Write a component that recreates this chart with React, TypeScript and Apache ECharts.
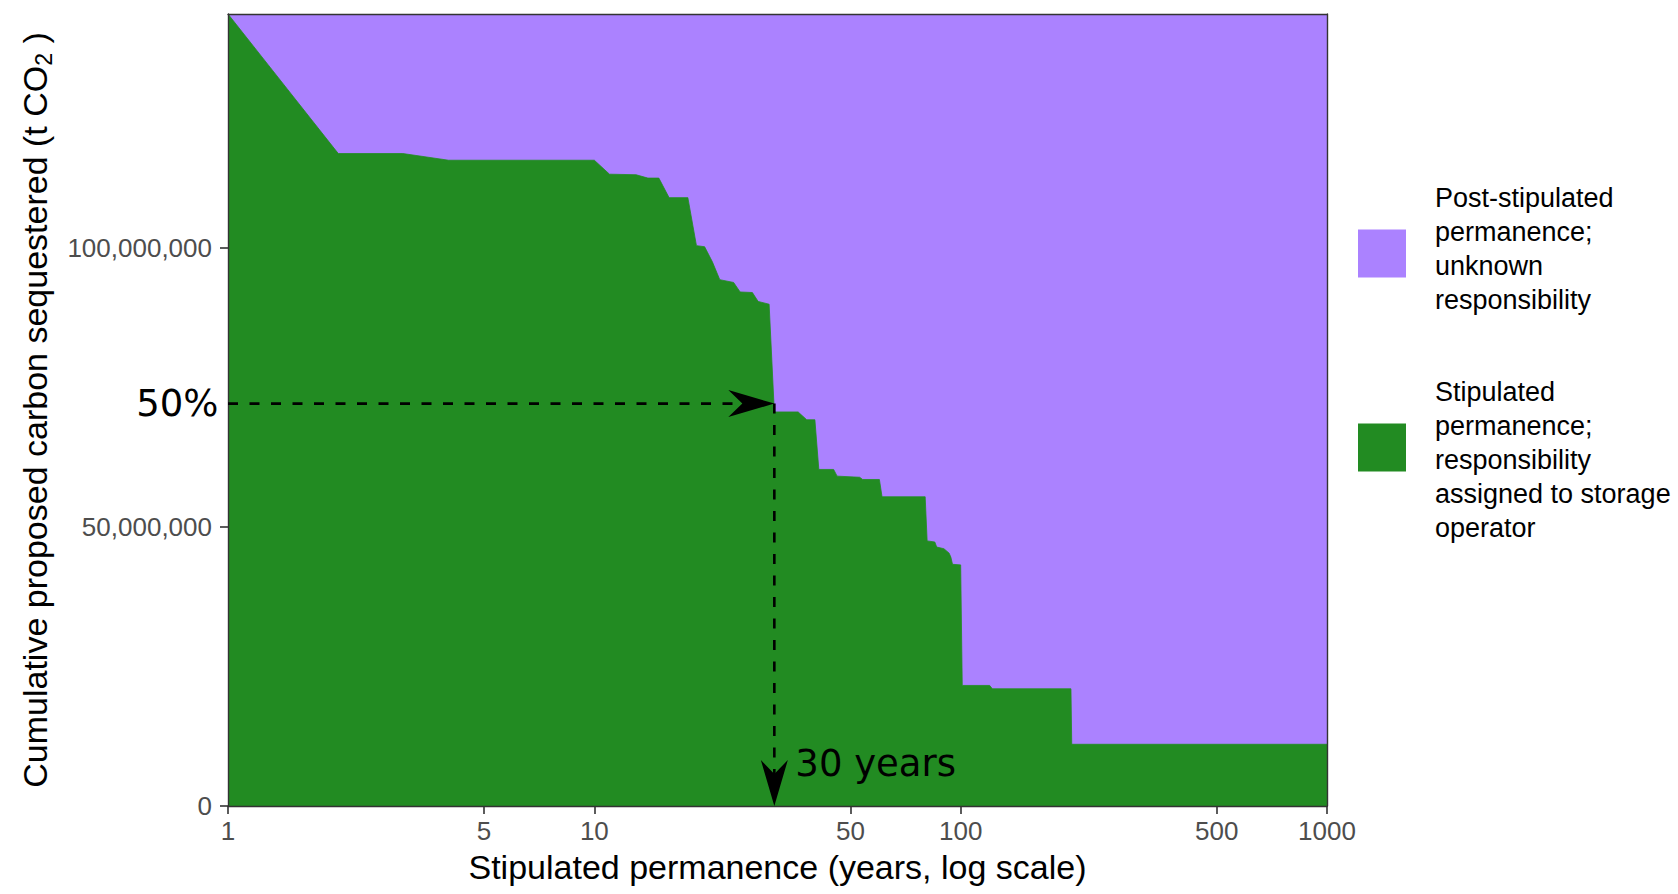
import React, { useEffect, useRef } from 'react';
import * as echarts from 'echarts';

// ---- data ----
// Stipulated permanence (years) at which the cumulative curve changes
const YEARS = [1, 2, 3, 4, 10, 11, 13, 14, 15, 16, 18, 19, 20, 21, 22, 24, 25, 27, 28, 30, 31, 36, 38, 40, 41, 45, 46, 53, 54, 60, 61, 80, 81, 85, 86, 90, 93, 94, 95, 100, 101, 120, 122, 200, 201, 1000];
// Cumulative proposed carbon sequestered with stipulated permanence >= year (t CO2)
const STIPULATED_T = [141.9e6, 116.9e6, 116.9e6, 115.7e6, 115.7e6, 113.2e6, 113.1e6, 112.5e6, 112.5e6, 109.0e6, 109.0e6, 100.4e6, 100.2e6, 97.5e6, 94.3e6, 93.8e6, 92.1e6, 92.0e6, 90.4e6, 89.9e6, 70.6e6, 70.6e6, 69.2e6, 69.2e6, 60.3e6, 60.3e6, 59.1e6, 58.9e6, 58.5e6, 58.5e6, 55.4e6, 55.4e6, 47.5e6, 47.3e6, 46.4e6, 46.1e6, 45.3e6, 44.6e6, 43.3e6, 43.2e6, 21.6e6, 21.6e6, 21.0e6, 21.0e6, 11.06e6, 11.06e6];
// Total cumulative proposed carbon sequestered (t CO2)
const TOTAL_T = 141.9e6;
const FIFTY_PCT_T = 72.1e6;
const ANNOT_YEARS = 31;
const ANNOT_LABEL = '30 years';
const FIFTY_LABEL = '50%';
const X_TICK_YEARS = [1, 5, 10, 50, 100, 500, 1000];
const Y_TICKS = [0, 50e6, 100e6];

const POST_NAME = 'Post-stipulated permanence; unknown responsibility';
const STIP_NAME = 'Stipulated permanence; responsibility assigned to storage operator';
const LEGEND_TEXT: Record<string, string> = {
  [POST_NAME]: 'Post-stipulated\npermanence;\nunknown\nresponsibility\n{sb| }',
  [STIP_NAME]: '{st| }\nStipulated\npermanence;\nresponsibility\nassigned to storage\noperator',
};

const PURPLE = '#AB82FF';
const GREEN = '#228B22';
const AXIS_COLOR = '#333333';
const TICK_TEXT = '#4D4D4D';
const FONT = 'Liberation Sans';
const ANNOT_FONT = 'DejaVu Sans';

export default function App() {
  const ref = useRef<HTMLDivElement>(null);

  useEffect(() => {
    document.body.style.margin = '0';
    if (!ref.current) return;
    const chart = echarts.init(ref.current, undefined, { renderer: 'svg' });

    const lx = (y: number) => Math.log10(y);
    const greenData = YEARS.map((y, i) => [lx(y), STIPULATED_T[i]]);
    // total (stipulated + post-stipulated) forms the top of the purple band
    const totalData = YEARS.map((y) => [lx(y), TOTAL_T]);
    const xTicks = X_TICK_YEARS.map(lx);

    const dashStyle = { stroke: '#000', lineWidth: 2.6, lineDash: [10, 11.5], fill: 'none' };

    const option: any = {
      animation: false,
      backgroundColor: '#ffffff',
      textStyle: { fontFamily: FONT },
      grid: { left: 228, right: 351, top: 14, bottom: 88, containLabel: false, outerBoundsMode: 'none' },
      legend: {
        orient: 'vertical',
        left: 1358,
        top: 181,
        padding: 0,
        itemGap: 24,
        itemWidth: 48,
        itemHeight: 48,
        icon: 'rect',
        selectedMode: false,
        itemStyle: { borderWidth: 0 },
        textStyle: {
          fontSize: 27,
          lineHeight: 34,
          color: '#000',
          fontFamily: FONT,
          padding: [0, 0, 0, 24],
          rich: {
            sb: { fontSize: 4, lineHeight: 9 },
            st: { fontSize: 4, lineHeight: 25 },
          },
        },
        formatter: (name: string) => LEGEND_TEXT[name] || name,
        data: [
          { name: POST_NAME, itemStyle: { color: PURPLE, borderWidth: 0 } },
          { name: STIP_NAME, itemStyle: { color: GREEN, borderWidth: 0 } },
        ],
      },
      xAxis: [
        {
          type: 'value',
          min: 0,
          max: 3,
          z: 5,
          name: 'Stipulated permanence (years, log scale)',
          nameLocation: 'middle',
          nameGap: 44,
          nameMoveOverlap: false,
          nameTextStyle: { fontSize: 34, color: '#000', fontFamily: FONT },
          axisLine: { show: true, onZero: false, lineStyle: { color: AXIS_COLOR, width: 1.4 } },
          axisTick: { show: true, customValues: xTicks, length: 8, lineStyle: { color: AXIS_COLOR, width: 1.6 } },
          axisLabel: {
            customValues: xTicks,
            fontSize: 26,
            color: TICK_TEXT,
            margin: 12,
            fontFamily: FONT,
            formatter: (v: number) => String(Math.round(Math.pow(10, v))),
          },
          splitLine: { show: false },
        },
        {
          type: 'value',
          min: 0,
          max: 3,
          position: 'top',
          z: 5,
          axisLine: { show: true, onZero: false, lineStyle: { color: AXIS_COLOR, width: 1.4 } },
          axisTick: { show: false },
          axisLabel: { show: false },
          splitLine: { show: false },
        },
      ],
      yAxis: [
        {
          type: 'value',
          min: 0,
          max: TOTAL_T,
          z: 5,
          name: 'Cumulative proposed carbon sequestered (t CO{sub|2} )',
          nameLocation: 'middle',
          nameGap: 173,
          nameRotate: 90,
          nameMoveOverlap: false,
          nameTextStyle: {
            fontSize: 34,
            lineHeight: 40,
            color: '#000',
            fontFamily: FONT,
            rich: {
              sub: { fontSize: 23, lineHeight: 23, verticalAlign: 'bottom', color: '#000', fontFamily: FONT },
            },
          },
          axisLine: { show: true, onZero: false, lineStyle: { color: AXIS_COLOR, width: 1.4 } },
          axisTick: { show: true, customValues: Y_TICKS, length: 8, lineStyle: { color: AXIS_COLOR, width: 1.6 } },
          axisLabel: {
            customValues: Y_TICKS,
            fontSize: 26,
            color: TICK_TEXT,
            margin: 16,
            fontFamily: FONT,
            formatter: (v: number) => Math.round(v).toLocaleString('en-US'),
          },
          splitLine: { show: false },
        },
        {
          type: 'value',
          min: 0,
          max: TOTAL_T,
          position: 'right',
          z: 5,
          axisLine: { show: true, onZero: false, lineStyle: { color: AXIS_COLOR, width: 1.4 } },
          axisTick: { show: false },
          axisLabel: { show: false },
          splitLine: { show: false },
        },
      ],
      series: [
        {
          name: POST_NAME,
          type: 'line',
          data: totalData,
          symbol: 'none',
          silent: true,
          color: PURPLE,
          z: 2,
          lineStyle: { width: 0, opacity: 0 },
          areaStyle: { color: PURPLE, opacity: 1 },
          emphasis: { disabled: true },
        },
        {
          name: STIP_NAME,
          type: 'line',
          data: greenData,
          symbol: 'none',
          silent: true,
          color: GREEN,
          z: 3,
          lineStyle: { width: 0.8, color: GREEN },
          areaStyle: { color: GREEN, opacity: 1 },
          emphasis: { disabled: true },
        },
        {
          type: 'custom',
          name: 'annotation',
          data: [[lx(ANNOT_YEARS), FIFTY_PCT_T]],
          encode: { x: 0, y: 1 },
          clip: false,
          silent: true,
          z: 10,
          renderItem: (params: any, api: any) => {
            const tip = api.coord([api.value(0), api.value(1)]);
            const start = api.coord([0, api.value(1)]);
            const base = api.coord([api.value(0), 0]);
            const L = 46;
            const N = 32;
            const W = 13.5;
            return {
              type: 'group',
              children: [
                { type: 'line', shape: { x1: start[0], y1: tip[1], x2: tip[0] - N, y2: tip[1] }, style: dashStyle },
                {
                  type: 'polygon',
                  shape: { points: [[tip[0], tip[1]], [tip[0] - L, tip[1] - W], [tip[0] - N, tip[1]], [tip[0] - L, tip[1] + W]] },
                  style: { fill: '#000' },
                },
                { type: 'line', shape: { x1: tip[0], y1: tip[1], x2: base[0], y2: base[1] - N }, style: dashStyle },
                {
                  type: 'polygon',
                  shape: { points: [[base[0], base[1]], [base[0] - W, base[1] - L], [base[0], base[1] - N], [base[0] + W, base[1] - L]] },
                  style: { fill: '#000' },
                },
                {
                  type: 'text',
                  x: base[0] + 21,
                  y: base[1] - 43,
                  style: { text: ANNOT_LABEL, fontSize: 37, fontFamily: ANNOT_FONT, fill: '#000', align: 'left', verticalAlign: 'middle' },
                },
                {
                  type: 'text',
                  x: start[0] - 9.5,
                  y: tip[1],
                  style: { text: FIFTY_LABEL, fontSize: 37, fontFamily: ANNOT_FONT, fill: '#000', align: 'right', verticalAlign: 'middle' },
                },
              ],
            };
          },
        },
      ],
    };

    chart.setOption(option);
    return () => {
      chart.dispose();
    };
  }, []);

  return <div ref={ref} style={{ width: '1678px', height: '894px' }} />;
}
